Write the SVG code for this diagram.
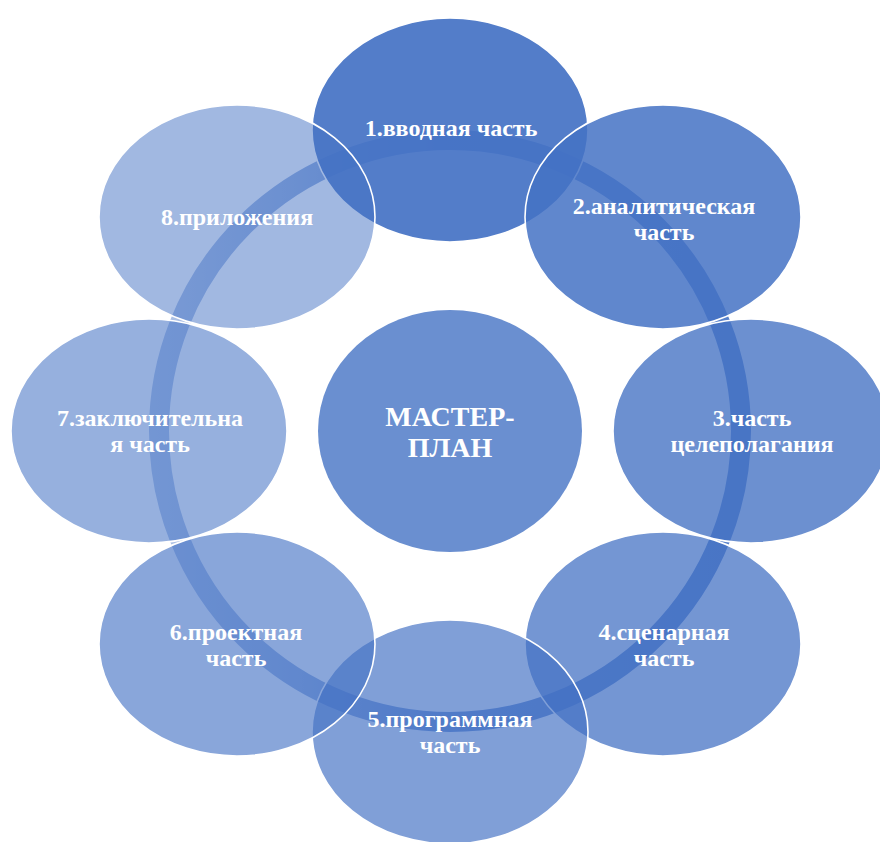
<svg xmlns="http://www.w3.org/2000/svg" width="880" height="842" viewBox="0 0 880 842">
<defs>
<linearGradient id="ringGrad" gradientUnits="userSpaceOnUse" x1="150" y1="0" x2="745" y2="0">
<stop offset="0" stop-color="#4472c4" stop-opacity="0.42"/>
<stop offset="0.25" stop-color="#4472c4" stop-opacity="0.58"/>
<stop offset="0.5" stop-color="#4472c4" stop-opacity="0.8"/>
<stop offset="1" stop-color="#4472c4" stop-opacity="0.9"/>
</linearGradient>
<style>
.n{fill:#4472c4;stroke:#ffffff;stroke-width:1.6}
.t{font-family:"Liberation Serif","Times New Roman",serif;font-weight:bold;font-size:24px;fill:#ffffff;text-anchor:middle}
.c{font-size:28px}
</style>
</defs>
<rect width="880" height="842" fill="#ffffff"/>
<g id="connectors">
<circle cx="450" cy="431" r="291" fill="none" stroke="url(#ringGrad)" stroke-width="20"/>
</g>
<g id="center">
<ellipse cx="450" cy="431" rx="132" ry="121" fill="#6a8fd0"/>
<text class="t c" x="450" y="426">МАСТЕР-</text>
<text class="t c" x="450" y="457">ПЛАН</text>
</g>
<g id="node1">
<ellipse class="n" cx="450" cy="130" rx="138" ry="112" fill-opacity="0.92"/>
<text class="t" x="451" y="136">1.вводная часть</text>
</g>
<g id="node2">
<ellipse class="n" cx="663" cy="217" rx="138" ry="112" fill-opacity="0.85"/>
<text class="t" x="664" y="214">2.аналитическая</text>
<text class="t" x="664" y="240">часть</text>
</g>
<g id="node3">
<ellipse class="n" cx="751" cy="431" rx="138" ry="112" fill-opacity="0.79"/>
<text class="t" x="752" y="426">3.часть</text>
<text class="t" x="752" y="452">целеполагания</text>
</g>
<g id="node4">
<ellipse class="n" cx="663" cy="644" rx="138" ry="112" fill-opacity="0.74"/>
<text class="t" x="664" y="640">4.сценарная</text>
<text class="t" x="664" y="666">часть</text>
</g>
<g id="node5">
<ellipse class="n" cx="450" cy="732" rx="138" ry="112" fill-opacity="0.68"/>
<text class="t" x="450" y="727">5.программная</text>
<text class="t" x="450" y="753">часть</text>
</g>
<g id="node6">
<ellipse class="n" cx="237" cy="644" rx="138" ry="112" fill-opacity="0.63"/>
<text class="t" x="236" y="640">6.проектная</text>
<text class="t" x="236" y="666">часть</text>
</g>
<g id="node7">
<ellipse class="n" cx="149" cy="431" rx="138" ry="112" fill-opacity="0.56"/>
<text class="t" x="150" y="426">7.заключительна</text>
<text class="t" x="150" y="452">я часть</text>
</g>
<g id="node8">
<ellipse class="n" cx="237" cy="217" rx="138" ry="112" fill-opacity="0.5"/>
<text class="t" x="237" y="225">8.приложения</text>
</g>
</svg>
